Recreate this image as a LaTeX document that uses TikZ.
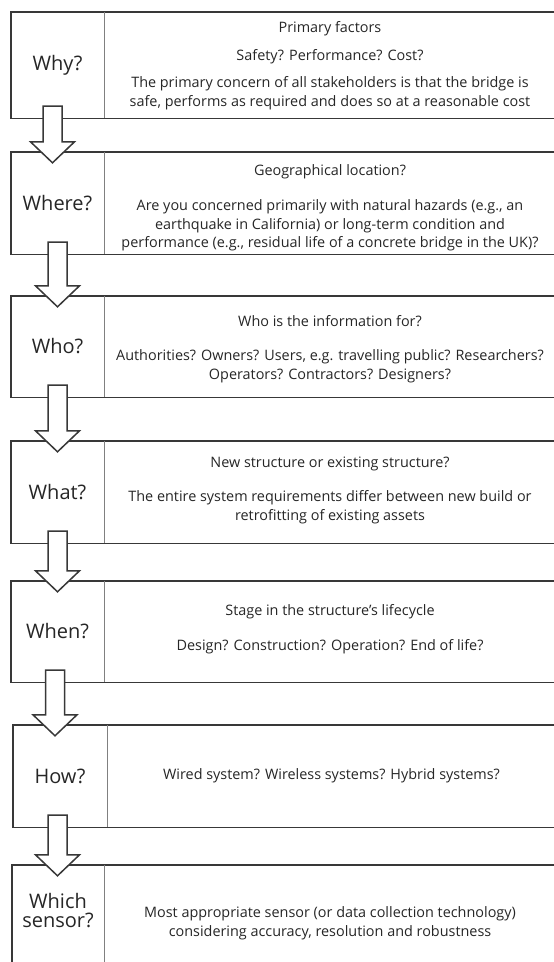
\documentclass[tikz,border=0pt]{standalone}
\usepackage{fontspec}
\setmainfont{Open Sans}
\usetikzlibrary{calc}

\definecolor{boxline}{HTML}{383838}
\definecolor{divline}{HTML}{808080}
\definecolor{txtcol}{HTML}{262626}

% block arrow from one question box down into the next
\newcommand{\flowarrow}[3][0]{%
  \draw[flowarrow] let \p1 = ($(#2.south)+(#1,0)$), \p2 = (#3.north) in
    (\x1-9.5pt,\y1+12pt) -- (\x1-9.5pt,\y2+10pt) -- (\x1-22pt,\y2+10pt)
    -- (\x1,\y2-11pt) -- (\x1+22pt,\y2+10pt) -- (\x1+9.5pt,\y2+10pt)
    -- (\x1+9.5pt,\y1+12pt) -- cycle;
}

\begin{document}
\begin{tikzpicture}[x=1pt,y=-1pt,
  question/.style={minimum width=93pt,inner sep=0pt,align=center,text=txtcol,
    font=\fontsize{20}{19}\selectfont},
  answer/.style={minimum width=452pt,inner sep=0pt,align=center,text=txtcol,
    font=\fontsize{14.4}{18.5}\selectfont},
  rowbox/.style={draw=boxline,line width=1.4pt},
  divider/.style={draw=divline,line width=1pt},
  flowarrow/.style={draw=boxline,fill=white,line width=1.5pt,line join=miter}]

\useasboundingbox (0,0) rectangle (554,962);

\node (why) at (57.5,65) [question,minimum height=106pt] {Why?};
\node (whyinfo) at (330,65.5) [answer] {Primary factors\\[9pt]
  Safety? Performance? Cost?\\[9pt]
  The primary concern of all stakeholders is that the bridge is\\
  safe, performs as required and does so at a reasonable cost};

\node (where) at (57.5,203) [question,minimum height=102pt] {Where?};
\node (whereinfo) at (330,208) [answer] {Geographical location?\\[17pt]
  Are you concerned primarily with natural hazards (e.g., an\\
  earthquake in California) or long-term condition and\\
  performance (e.g., residual life of a concrete bridge in the UK)?};

\node (who) at (57.5,346.5) [question,minimum height=101pt] {Who?};
\node (whoinfo) at (330,349) [answer] {Who is the information for?\\[16pt]
  Authorities? Owners? Users, e.g. travelling public? Researchers?\\
  Operators? Contractors? Designers?};

\node (what) at (57.5,492) [question,minimum height=102pt] {What?};
\node (whatinfo) at (330,490) [answer] {New structure or existing structure?\\[16pt]
  The entire system requirements differ between new build or\\
  retrofitting of existing assets};

\node (when) at (57.5,631.5) [question,minimum height=101pt] {When?};
\node (wheninfo) at (330,629) [answer] {Stage in the structure's lifecycle\\[16pt]
  Design? Construction? Operation? End of life?};

\node (how) at (60,776) [question,minimum width=94pt,minimum height=102pt] {How?};
\node (howinfo) at (331.5,776) [answer,minimum width=449pt] {Wired system? Wireless systems? Hybrid systems?};

\node (which) at (58,911) [question,minimum width=92pt,minimum height=92pt] {Which\\sensor?};
\node (whichinfo) at (330,923) [answer] {Most appropriate sensor (or data collection technology)\\
  considering accuracy, resolution and robustness};
\coordinate (pageend) at (0,975);

% row frames
\draw [rowbox] (why.north west) rectangle (why.south -| whyinfo.east);
\draw [rowbox] (where.north west) rectangle (where.south -| whereinfo.east);
\draw [rowbox] (who.north west) rectangle (who.south -| whoinfo.east);
\draw [rowbox] (what.north west) rectangle (what.south -| whatinfo.east);
\draw [rowbox] (when.north west) rectangle (when.south -| wheninfo.east);
\draw [rowbox] (how.north west) rectangle (how.south -| howinfo.east);
\draw [rowbox] (which.north west) rectangle (pageend -| whichinfo.east);

\draw [divider] (why.north east) -- (why.south east);
\draw [divider] (where.north east) -- (where.south east);
\draw [divider] (who.north east) -- (who.south east);
\draw [divider] (what.north east) -- (what.south east);
\draw [divider] (when.north east) -- (when.south east);
\draw [divider] (how.north east) -- (how.south east);
\draw [divider] (which.north east) -- (which.east |- pageend);

\flowarrow[-5]{why}{where}
\flowarrow{where}{who}
\flowarrow{who}{what}
\flowarrow{what}{when}
\flowarrow[-2.5]{when}{how}
\flowarrow[-2.5]{how}{which}

\end{tikzpicture}
\end{document}
